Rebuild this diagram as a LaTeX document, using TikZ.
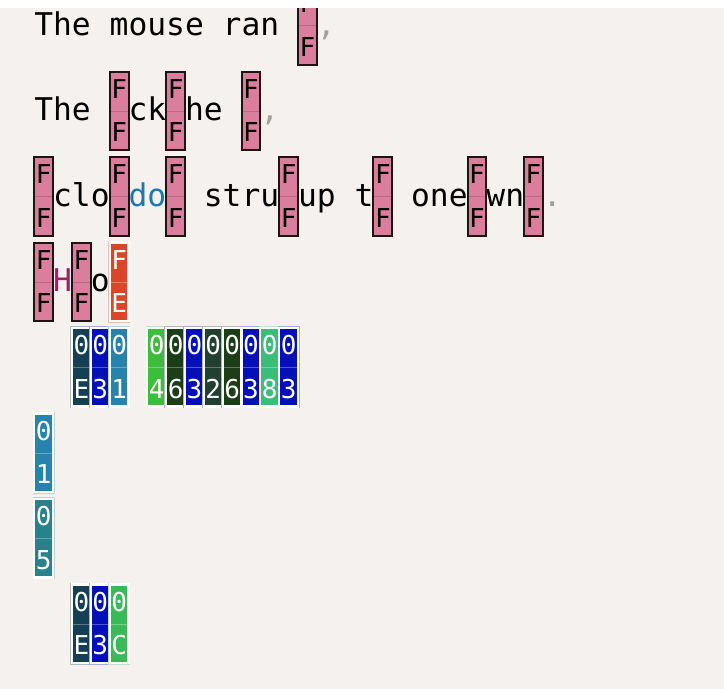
\documentclass[tikz,border=0pt]{standalone}
\usepackage{fontspec}
\usepackage{xcolor}
\newfontfamily\codefont{DejaVu Sans Mono}
\definecolor{hxpaper}{RGB}{245,241,238}
\definecolor{hxpink}{RGB}{219,125,157}
\definecolor{hxedge}{RGB}{30,20,20}
\definecolor{hxorange}{RGB}{219,69,40}
\definecolor{hxdkteal}{RGB}{20,63,84}
\definecolor{hxblue}{RGB}{3,16,184}
\definecolor{hxteal}{RGB}{38,131,172}
\definecolor{hxcyan}{RGB}{40,130,138}
\definecolor{hxgreen}{RGB}{60,190,60}
\definecolor{hxdkgreen}{RGB}{28,62,22}
\definecolor{hxslate}{RGB}{33,64,50}
\definecolor{hxmint}{RGB}{56,190,120}
\definecolor{hxleaf}{RGB}{56,186,88}
\definecolor{hxword}{RGB}{26,120,180}
\definecolor{hxplum}{RGB}{160,30,100}
\definecolor{hxgrey}{RGB}{160,160,160}
\newcommand{\runfont}{\codefont\fontsize{31.3}{31.3}\selectfont}
\newcommand{\cellfont}{\codefont\fontsize{26}{26}\selectfont}
\tikzset{
  run/.style={inner sep=0pt, outer sep=0pt, font=\runfont, anchor=base west},
  glyph/.style={inner sep=0pt, outer sep=0pt, font=\cellfont, anchor=base},
  missing/.style={draw=hxedge, line width=2pt, fill=hxpink, inner sep=0pt, outer sep=0pt,
    minimum width=18.84pt, minimum height=78.5pt},
  hexcell/.style={fill=#1, draw=white, line width=2.2pt, preaction={draw=#1!35, line width=3.4pt},
    inner sep=0pt, outer sep=0pt, minimum width=18.84pt, minimum height=78.5pt},
  midline/.style={line width=0.5pt, black, opacity=0.15}
}
% boxes drawn for glyphs the font lacks
\newcommand{\missingglyph}[5]{%
  \node[missing, anchor=north west] (#1) at ({34.3+#2*18.84}, {#3-49}) {};
  \draw[midline] (#1.west) -- (#1.east);
  \node[glyph] (#1-up) at ([yshift=12.5pt]#1.center) {#4};
  \node[glyph] (#1-lo) at ([yshift=-30.8pt]#1.center) {#5};
}
\newcommand{\hexglyph}[6]{%
  \node[hexcell=#6, anchor=north west] (#1) at ({34.3+#2*18.84}, {#3-49}) {};
  \draw[midline, white, opacity=0.3] (#1.west) -- (#1.east);
  \node[glyph, white] (#1-up) at ([yshift=12.5pt]#1.center) {#4};
  \node[glyph, white] (#1-lo) at ([yshift=-30.8pt]#1.center) {#5};
}
\begin{document}
\begin{tikzpicture}[x=1pt, y=-1pt]
    \useasboundingbox (0,0) rectangle (724,689);
    \fill[hxpaper] (0,8) rectangle (724,689);

    % Line 1
    \node[run] (l1a) at ({34.3+0*18.84}, 35) {The mouse ran};
    \missingglyph{l1b}{14}{35}{F}{F}
    \node[run, hxgrey] (l1c) at ({34.3+15*18.84}, 35) {,};

    % Line 2
    \node[run] (l2a) at ({34.3+0*18.84}, 120.5) {The};
    \missingglyph{l2b}{4}{120.5}{F}{F}
    \node[run] (l2c) at ({34.3+5*18.84}, 120.5) {ck};
    \missingglyph{l2d}{7}{120.5}{F}{F}
    \node[run] (l2e) at ({34.3+8*18.84}, 120.5) {he};
    \missingglyph{l2f}{11}{120.5}{F}{F}
    \node[run, hxgrey] (l2g) at ({34.3+12*18.84}, 120.5) {,};

    % Line 3
    \missingglyph{l3a}{0}{206}{F}{F}
    \node[run] (l3b) at ({34.3+1*18.84}, 206) {clo};
    \missingglyph{l3c}{4}{206}{F}{F}
    \node[run, hxword] (l3d) at ({34.3+5*18.84}, 206) {do};
    \missingglyph{l3e}{7}{206}{F}{F}
    \node[run] (l3f) at ({34.3+9*18.84}, 206) {stru};
    \missingglyph{l3g}{13}{206}{F}{F}
    \node[run] (l3h) at ({34.3+14*18.84}, 206) {up t};
    \missingglyph{l3i}{18}{206}{F}{F}
    \node[run] (l3j) at ({34.3+20*18.84}, 206) {one};
    \missingglyph{l3k}{23}{206}{F}{F}
    \node[run] (l3l) at ({34.3+24*18.84}, 206) {wn};
    \missingglyph{l3m}{26}{206}{F}{F}
    \node[run, hxgrey] (l3n) at ({34.3+27*18.84}, 206) {.};

    % Line 4
    \missingglyph{l4a}{0}{291.5}{F}{F}
    \node[run, hxplum] (l4b) at ({34.3+1*18.84}, 291.5) {H};
    \missingglyph{l4c}{2}{291.5}{F}{F}
    \node[run] (l4d) at ({34.3+3*18.84}, 291.5) {o};
    \hexglyph{l4e}{4}{291.5}{F}{E}{hxorange}

    % Code points
    \foreach \i/\lo/\col in {2/E/hxdkteal, 3/3/hxblue, 4/1/hxteal,
        6/4/hxgreen, 7/6/hxdkgreen, 8/3/hxblue, 9/2/hxslate,
        10/6/hxdkgreen, 11/3/hxblue, 12/8/hxmint, 13/3/hxblue}
        {\hexglyph{l5c\i}{\i}{377}{0}{\lo}{\col}}
    \hexglyph{l6a}{0}{462.5}{0}{1}{hxteal}
    \hexglyph{l7a}{0}{548}{0}{5}{hxcyan}
    \foreach \i/\lo/\col in {2/E/hxdkteal, 3/3/hxblue, 4/C/hxleaf}
        {\hexglyph{l8c\i}{\i}{633.5}{0}{\lo}{\col}}

    % Top strip
    \fill[white] (0,0) rectangle (724,8);
\end{tikzpicture}
\end{document}
